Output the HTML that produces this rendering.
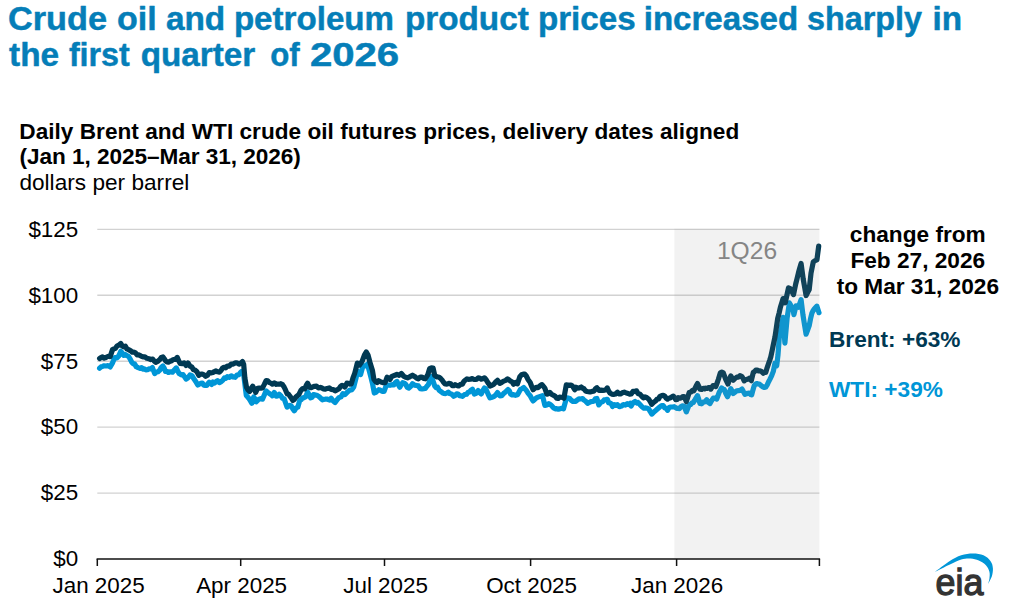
<!DOCTYPE html>
<html lang="en">
<head>
<meta charset="utf-8">
<title>Crude oil and petroleum product prices increased sharply in the first quarter of 2026</title>
<style>
html,body{margin:0;padding:0;background:#fff;}
body{width:1024px;height:612px;overflow:hidden;font-family:"Liberation Sans",Arial,sans-serif;}
svg{display:block;}
text{font-family:"Liberation Sans",Arial,sans-serif;}
.title{font-weight:bold;font-size:32.5px;fill:#057eb8;stroke:#057eb8;stroke-width:0.45px;stroke-linejoin:round;}
.sub{font-weight:bold;font-size:22.6px;fill:#000;}
.unit{font-size:22.6px;fill:#000;}
.ax{font-size:22.4px;fill:#000;}
.note{font-weight:bold;font-size:22.65px;fill:#000;}
</style>
</head>
<body>
<svg width="1024" height="612" viewBox="0 0 1024 612">
<rect width="1024" height="612" fill="#ffffff"/>
<text y="30.3" class="title"><tspan x="7.9" textLength="99.1" lengthAdjust="spacingAndGlyphs">Crude</tspan> <tspan x="116.9" textLength="39.7" lengthAdjust="spacingAndGlyphs">oil</tspan> <tspan x="165.9" textLength="59.3" lengthAdjust="spacingAndGlyphs">and</tspan> <tspan x="233.9" textLength="160.1" lengthAdjust="spacingAndGlyphs">petroleum</tspan> <tspan x="404.9" textLength="123.9" lengthAdjust="spacingAndGlyphs">product</tspan> <tspan x="537.9" textLength="97.7" lengthAdjust="spacingAndGlyphs">prices</tspan> <tspan x="643.7" textLength="154.5" lengthAdjust="spacingAndGlyphs">increased</tspan> <tspan x="807.1" textLength="114.9" lengthAdjust="spacingAndGlyphs">sharply</tspan> <tspan x="932.4" textLength="29.6" lengthAdjust="spacingAndGlyphs">in</tspan></text>
<text y="66.4" class="title"><tspan x="9.1" textLength="50.1" lengthAdjust="spacingAndGlyphs">the</tspan> <tspan x="68.9" textLength="60.9" lengthAdjust="spacingAndGlyphs">first</tspan> <tspan x="140.7" textLength="114.5" lengthAdjust="spacingAndGlyphs">quarter</tspan> <tspan x="270.2" textLength="29.5" lengthAdjust="spacingAndGlyphs">of</tspan> <tspan x="309.9" textLength="89.3" lengthAdjust="spacingAndGlyphs">2026</tspan></text>
<text x="19.3" y="138.7" class="sub" textLength="719.9">Daily Brent and WTI crude oil futures prices, delivery dates aligned</text>
<text x="19.5" y="164" class="sub" textLength="281.4">(Jan 1, 2025–Mar 31, 2026)</text>
<text x="19.4" y="189.8" class="unit" textLength="169.9">dollars per barrel</text>
<line x1="97.3" x2="819.4" y1="493.1" y2="493.1" stroke="#d2d2d2" stroke-width="1.4"/>
<line x1="97.3" x2="819.4" y1="427.1" y2="427.1" stroke="#d2d2d2" stroke-width="1.4"/>
<line x1="97.3" x2="819.4" y1="361.2" y2="361.2" stroke="#d2d2d2" stroke-width="1.4"/>
<line x1="97.3" x2="819.4" y1="295.3" y2="295.3" stroke="#d2d2d2" stroke-width="1.4"/>
<line x1="97.3" x2="819.4" y1="229.4" y2="229.4" stroke="#d2d2d2" stroke-width="1.4"/>

<text x="78.2" y="566.3" text-anchor="end" class="ax">$0</text>
<text x="78.2" y="500.4" text-anchor="end" class="ax">$25</text>
<text x="78.2" y="434.4" text-anchor="end" class="ax">$50</text>
<text x="78.2" y="368.5" text-anchor="end" class="ax">$75</text>
<text x="78.2" y="302.6" text-anchor="end" class="ax">$100</text>
<text x="78.2" y="236.7" text-anchor="end" class="ax">$125</text>

<path d="M99.6,368.2 L101.1,366.8 L102.5,366.4 L104.1,365.8 L105.7,366.0 L107.3,365.7 L108.7,365.8 L110.2,366.9 L112.5,362.9 L113.7,360.1 L115.0,357.7 L116.9,357.9 L118.8,355.9 L120.8,351.3 L122.2,353.0 L123.7,355.3 L125.3,354.5 L126.9,355.7 L128.5,356.4 L130.1,358.9 L131.7,362.2 L133.2,363.8 L134.7,363.9 L136.2,366.7 L138.1,367.6 L140.0,368.3 L141.5,367.6 L142.9,369.1 L144.4,368.8 L145.9,369.8 L147.4,369.7 L148.8,368.9 L150.6,369.0 L152.4,367.6 L154.7,373.6 L156.3,372.1 L158.0,371.8 L159.6,370.4 L161.3,367.4 L162.9,366.0 L164.2,368.1 L165.5,371.5 L167.0,371.3 L168.4,372.5 L170.4,371.8 L172.4,372.2 L174.3,370.0 L176.3,367.9 L177.7,371.0 L179.2,373.6 L181.2,374.8 L183.1,374.7 L184.6,376.9 L186.1,379.1 L188.0,377.8 L190.0,375.0 L192.0,375.7 L193.9,378.8 L195.9,381.7 L197.8,385.1 L199.3,384.1 L200.8,383.4 L202.3,383.1 L203.7,385.1 L205.2,385.3 L206.7,385.5 L207.9,383.7 L209.2,382.2 L211.6,384.4 L213.0,382.1 L214.5,383.0 L216.0,381.7 L217.5,380.7 L219.4,382.6 L221.2,381.7 L222.9,380.1 L224.4,377.8 L225.8,378.4 L227.3,376.6 L229.2,377.3 L231.2,375.8 L233.1,377.0 L235.1,377.3 L237.1,375.0 L239.0,374.6 L240.5,372.5 L241.9,371.3 L243.3,371.6 L244.8,383.3 L246.3,395.5 L247.7,397.0 L249.2,398.8 L250.5,400.9 L251.8,403.3 L253.7,396.9 L255.0,399.0 L256.3,401.8 L258.6,399.4 L260.6,398.7 L262.5,399.1 L264.3,395.0 L266.1,390.9 L267.7,392.3 L269.4,393.5 L270.9,394.4 L272.4,395.8 L274.3,392.4 L276.3,396.2 L277.7,395.9 L279.2,394.2 L280.8,395.6 L282.5,398.3 L284.1,398.7 L285.6,403.0 L287.1,407.1 L288.5,406.1 L290.0,405.4 L291.4,406.1 L292.9,409.0 L294.3,410.8 L296.1,407.9 L297.8,407.2 L299.8,400.1 L301.3,399.5 L302.7,397.9 L304.2,397.6 L305.7,396.7 L307.6,392.0 L309.1,394.7 L310.6,397.8 L312.1,397.3 L313.5,394.6 L315.5,395.1 L317.5,395.6 L319.1,396.6 L320.7,398.3 L322.4,399.8 L323.8,399.3 L325.3,399.2 L326.8,399.0 L328.2,399.5 L329.7,400.0 L331.2,398.2 L333.1,400.7 L335.1,402.5 L337.1,399.7 L339.0,397.6 L341.0,396.8 L342.9,393.7 L344.9,394.6 L346.4,393.1 L347.8,391.7 L349.8,390.0 L351.8,389.9 L353.7,387.1 L355.7,379.4 L357.6,371.2 L359.1,373.9 L360.6,374.5 L362.9,366.1 L364.4,365.8 L365.9,365.6 L367.5,364.1 L369.4,371.4 L370.9,377.1 L372.4,383.1 L374.3,393.0 L375.8,392.3 L377.3,390.8 L378.7,389.7 L380.2,390.1 L382.2,391.4 L384.1,391.4 L386.5,384.7 L388.2,385.0 L390.0,385.3 L392.0,384.7 L393.9,384.8 L395.4,382.5 L396.9,381.4 L398.3,384.4 L399.8,387.2 L401.3,384.7 L402.7,382.6 L404.2,383.1 L405.7,384.3 L407.2,387.2 L408.6,388.1 L410.6,386.5 L412.5,383.7 L414.5,385.1 L416.5,385.5 L418.4,385.9 L420.4,388.7 L422.0,389.0 L423.7,388.7 L425.3,388.5 L426.9,386.3 L428.4,384.6 L430.0,379.8 L431.4,376.4 L432.9,380.6 L434.7,385.8 L436.1,387.6 L437.5,387.1 L439.2,390.4 L441.0,391.6 L442.5,392.8 L443.9,393.5 L445.4,393.6 L446.9,393.1 L448.3,392.1 L449.8,393.6 L451.8,394.2 L453.7,396.3 L455.2,395.5 L456.7,393.8 L458.1,394.0 L459.6,395.6 L461.1,395.9 L462.5,396.4 L464.5,394.6 L466.5,394.3 L467.9,392.5 L469.4,392.0 L470.9,390.4 L472.4,389.2 L474.3,394.0 L476.3,393.3 L478.2,390.6 L479.7,392.8 L481.2,394.0 L482.8,390.7 L484.5,388.0 L485.8,388.7 L487.1,391.7 L488.5,395.1 L490.0,397.9 L492.0,397.2 L493.9,396.6 L495.7,395.0 L497.5,392.6 L499.8,395.8 L501.8,395.7 L503.7,393.4 L505.2,392.2 L506.6,390.9 L508.0,389.5 L509.3,390.8 L510.6,394.0 L512.1,394.9 L513.5,394.6 L515.5,395.3 L517.5,394.8 L518.9,392.2 L520.4,389.4 L522.1,388.7 L523.7,387.5 L525.0,388.9 L526.3,390.4 L528.2,393.4 L530.2,395.7 L531.7,398.6 L533.1,400.9 L534.8,399.3 L536.4,397.8 L538.0,397.1 L539.5,396.6 L541.0,396.1 L542.5,395.6 L544.9,405.4 L546.9,405.0 L548.8,403.6 L550.5,404.7 L552.1,406.2 L553.7,408.0 L555.2,408.8 L556.7,408.7 L558.4,409.2 L560.1,408.7 L561.8,408.2 L563.5,408.8 L565.0,403.4 L566.5,397.7 L568.1,398.1 L569.8,398.5 L571.3,400.4 L572.8,401.5 L574.3,401.3 L575.8,401.3 L577.3,400.0 L579.2,398.8 L581.2,399.0 L582.6,398.6 L584.1,400.2 L585.9,401.4 L587.6,403.3 L589.3,402.5 L591.0,401.6 L592.5,401.5 L593.9,401.0 L595.4,398.8 L596.9,398.5 L598.8,404.9 L600.8,402.4 L602.7,401.6 L604.2,399.8 L605.8,399.6 L607.3,399.3 L608.6,402.7 L610.0,403.1 L611.3,403.8 L612.5,406.5 L614.2,404.6 L615.8,405.5 L617.5,404.7 L619.4,406.7 L621.4,406.1 L623.3,404.6 L625.3,405.1 L627.3,403.7 L628.7,404.5 L630.2,403.3 L631.2,406.0 L633.1,402.7 L635.1,401.5 L636.6,403.0 L638.0,402.4 L640.0,404.6 L642.0,406.7 L643.9,408.2 L645.9,407.9 L647.4,408.3 L648.8,408.9 L650.3,411.7 L651.8,414.1 L653.7,412.1 L655.7,410.5 L657.1,409.3 L658.6,408.0 L660.0,406.8 L661.7,405.5 L663.3,405.7 L664.7,408.0 L666.1,408.3 L667.5,410.3 L669.2,407.5 L670.8,407.0 L672.5,407.0 L674.2,406.7 L675.4,407.4 L676.7,408.3 L678.1,408.3 L679.4,408.6 L680.8,406.8 L682.5,405.9 L684.2,406.3 L686.3,411.9 L687.8,408.2 L689.2,404.6 L690.6,404.5 L691.9,402.9 L693.3,402.5 L694.6,400.5 L695.8,398.4 L697.5,395.7 L698.8,399.4 L700.0,403.4 L701.7,403.8 L703.3,402.1 L705.0,401.7 L706.7,399.8 L708.3,402.4 L710.0,403.5 L711.7,400.5 L713.3,398.1 L715.0,398.0 L716.7,399.1 L717.9,395.8 L719.2,392.3 L720.4,390.2 L721.7,387.9 L722.9,389.5 L724.2,389.3 L725.8,393.6 L727.5,396.7 L729.2,392.7 L730.8,388.6 L732.1,391.2 L733.3,393.5 L735.0,392.2 L736.7,390.8 L738.4,390.7 L740.2,390.4 L742.0,389.0 L743.5,391.8 L745.0,394.4 L746.4,393.9 L747.8,393.2 L749.2,393.0 L750.4,394.4 L751.7,394.8 L752.9,390.2 L754.2,385.7 L755.4,384.3 L756.7,383.5 L758.1,384.0 L759.4,384.1 L760.8,385.4 L762.5,386.6 L764.2,387.5 L765.8,387.0 L767.2,384.9 L768.6,381.8 L770.0,379.1 L771.7,375.6 L773.3,371.4 L775.0,363.1 L776.7,365.7 L778.0,354.9 L779.2,338.2 L781.0,329.1 L783.1,317.4 L784.9,343.1 L787.1,318.1 L789.4,302.9 L791.2,306.1 L793.0,309.1 L793.9,314.7 L796.0,305.9 L798.4,307.2 L799.7,303.7 L801.1,299.7 L802.9,314.5 L804.5,324.6 L806.1,334.2 L807.6,330.1 L809.2,325.7 L810.5,318.9 L811.9,313.1 L813.2,310.5 L814.6,308.5 L816.9,306.2 L819.0,312.7" fill="none" stroke="#0096d7" stroke-width="5.2" stroke-linejoin="round" stroke-linecap="round"/>
<path d="M99.6,358.4 L101.1,357.5 L102.5,356.8 L103.9,358.1 L105.4,357.8 L106.8,357.0 L108.3,356.3 L110.2,356.6 L112.5,349.6 L114.0,348.9 L115.4,348.4 L116.9,346.1 L118.8,345.2 L120.8,343.4 L122.2,345.9 L123.7,346.8 L125.3,346.2 L126.9,348.9 L128.5,349.6 L130.4,350.6 L132.3,352.2 L133.9,352.2 L135.5,352.9 L137.1,354.8 L139.0,354.9 L141.0,356.1 L142.9,356.8 L144.9,356.9 L146.9,358.3 L148.8,358.7 L150.8,359.6 L152.7,359.1 L154.2,361.0 L155.7,362.3 L157.6,361.4 L159.6,359.8 L161.3,357.5 L162.9,357.0 L164.2,358.6 L165.5,360.8 L167.0,362.0 L168.4,362.2 L170.1,361.3 L171.7,360.7 L173.3,359.5 L175.3,359.5 L177.3,357.4 L178.7,360.8 L180.2,363.5 L182.2,363.7 L184.1,362.8 L186.1,365.5 L188.0,363.0 L190.0,366.2 L192.0,367.2 L193.4,369.7 L194.9,370.0 L196.9,371.8 L198.8,375.4 L200.8,374.1 L202.4,374.1 L204.1,374.8 L205.7,376.3 L207.5,375.3 L209.2,372.7 L211.6,372.8 L213.0,372.4 L214.5,371.6 L216.0,370.9 L217.5,371.8 L219.4,372.1 L220.9,370.7 L222.4,368.3 L224.0,367.3 L225.6,367.8 L227.3,366.1 L229.2,366.2 L231.2,364.2 L233.1,364.1 L235.1,362.9 L237.1,362.9 L239.0,364.2 L240.8,363.2 L242.5,361.5 L243.7,364.5 L244.9,378.3 L246.5,387.2 L248.0,389.9 L249.6,391.5 L251.2,388.3 L252.7,386.2 L254.2,389.0 L255.7,392.4 L257.6,388.3 L259.3,388.0 L260.9,388.1 L262.5,387.9 L264.3,384.4 L266.1,380.6 L267.7,380.9 L269.4,382.6 L270.9,383.1 L272.4,384.2 L274.3,382.8 L276.3,384.3 L277.7,384.0 L279.2,384.2 L280.8,383.7 L282.5,384.6 L284.1,387.0 L285.6,390.2 L287.1,393.7 L288.5,394.2 L290.0,396.2 L291.5,398.4 L292.9,400.4 L294.4,399.3 L295.9,397.0 L297.4,395.7 L298.8,394.6 L300.8,390.6 L302.7,388.5 L304.7,388.9 L306.2,385.4 L307.6,383.2 L309.6,387.3 L311.1,387.7 L312.5,386.9 L314.5,386.3 L316.5,386.1 L318.4,387.9 L320.4,387.4 L321.9,388.0 L323.3,388.9 L325.3,389.2 L327.3,388.4 L329.2,387.9 L331.2,389.4 L333.1,389.6 L335.1,390.8 L337.1,389.9 L339.0,388.7 L340.5,386.5 L342.0,385.3 L343.4,386.1 L344.9,387.0 L346.9,383.2 L348.3,383.3 L349.7,384.1 L351.2,383.9 L352.9,378.2 L354.7,373.3 L356.0,368.3 L357.3,363.1 L359.4,365.1 L360.8,363.2 L362.2,361.1 L364.5,354.8 L366.3,352.0 L368.0,355.0 L370.0,362.5 L372.4,370.2 L373.9,379.3 L375.5,381.5 L377.1,382.5 L378.6,380.7 L380.2,381.6 L381.8,382.2 L383.5,382.7 L385.1,382.6 L387.1,377.2 L388.5,378.4 L390.0,379.5 L391.5,376.8 L392.9,375.9 L394.9,375.3 L396.9,374.3 L398.8,375.3 L400.1,374.7 L401.4,373.5 L403.7,376.2 L405.7,377.3 L407.6,377.8 L409.1,377.2 L410.6,376.3 L412.5,375.2 L414.5,376.4 L416.5,378.0 L418.4,378.8 L420.4,377.1 L422.0,377.1 L423.7,378.5 L425.3,378.8 L426.6,376.6 L427.8,374.8 L429.6,368.7 L431.4,367.9 L433.1,368.1 L434.7,375.4 L437.1,377.0 L438.8,377.0 L440.6,378.4 L442.0,379.9 L443.3,382.0 L445.1,384.0 L446.9,384.1 L448.8,383.4 L450.8,383.8 L452.3,385.6 L453.7,385.7 L455.0,384.7 L456.3,385.2 L458.6,386.0 L460.6,384.4 L462.5,384.2 L464.0,381.2 L465.5,380.0 L467.0,378.9 L468.4,379.3 L470.4,379.2 L472.4,378.5 L473.8,379.5 L475.3,379.5 L476.8,379.2 L478.2,377.9 L479.7,378.0 L481.2,379.1 L482.8,378.8 L484.5,377.8 L485.8,379.2 L487.1,381.3 L488.5,383.5 L490.0,386.0 L492.0,385.3 L493.9,384.2 L495.7,382.0 L497.5,380.3 L499.8,383.3 L501.8,382.3 L503.7,381.1 L505.7,380.4 L507.6,378.9 L509.1,379.9 L510.6,381.2 L512.1,381.8 L513.5,384.2 L515.5,382.5 L517.5,383.8 L519.8,376.8 L521.6,374.8 L523.3,374.2 L524.8,374.2 L526.3,376.0 L528.2,379.7 L530.2,382.5 L531.7,386.5 L533.1,389.7 L534.8,388.3 L536.4,387.3 L538.0,387.7 L540.0,385.8 L542.0,384.6 L543.4,386.3 L544.9,388.3 L546.9,394.2 L548.3,393.8 L549.8,392.4 L551.8,394.5 L553.7,395.4 L555.2,396.2 L556.7,398.3 L558.1,398.5 L559.6,397.1 L561.0,397.3 L562.5,397.5 L563.9,398.3 L566.3,384.9 L567.7,385.1 L569.2,385.5 L570.8,385.0 L572.4,386.0 L574.7,389.7 L576.0,387.2 L577.3,388.1 L579.2,387.9 L581.2,387.0 L582.6,388.1 L584.1,388.9 L585.6,391.0 L587.1,391.5 L588.5,391.7 L590.0,392.0 L592.0,391.4 L593.9,391.2 L595.4,388.8 L596.9,387.7 L598.8,390.3 L600.8,390.1 L602.7,390.4 L604.7,390.1 L606.0,389.6 L607.3,387.9 L608.6,391.0 L610.0,393.0 L611.8,394.1 L613.5,394.4 L615.5,394.0 L617.5,392.2 L618.9,393.8 L620.4,394.0 L622.4,392.8 L624.3,392.1 L626.3,393.0 L628.2,393.5 L629.7,394.2 L631.2,394.0 L633.1,391.3 L635.1,391.1 L636.6,390.9 L638.0,393.6 L640.0,394.3 L642.0,396.5 L643.4,397.8 L644.9,396.8 L646.9,397.7 L648.8,399.2 L650.3,401.8 L651.8,404.3 L653.7,402.2 L655.7,400.9 L657.1,399.0 L658.6,399.0 L660.0,396.3 L661.7,395.6 L663.3,395.3 L664.7,396.0 L666.1,398.2 L667.5,399.2 L668.8,398.2 L670.0,398.0 L671.7,397.0 L673.3,396.1 L674.6,397.5 L675.8,399.7 L677.1,399.5 L678.3,397.7 L680.0,398.2 L681.7,397.6 L682.9,396.5 L684.2,396.5 L686.3,401.5 L687.8,397.1 L689.2,392.5 L690.8,392.1 L692.5,390.4 L693.8,390.8 L695.0,388.4 L696.2,385.8 L697.5,383.5 L698.8,386.3 L700.0,389.2 L701.7,389.5 L703.3,388.3 L704.6,388.8 L705.8,388.2 L707.1,388.4 L708.3,387.5 L709.6,387.5 L710.8,389.1 L713.0,385.6 L714.4,385.7 L715.8,386.6 L717.1,383.0 L718.3,379.5 L720.3,372.9 L721.8,372.2 L723.3,372.9 L724.6,376.4 L725.8,379.5 L728.0,384.0 L729.4,379.7 L730.8,375.9 L732.1,378.0 L733.3,380.2 L735.0,378.5 L736.7,377.2 L738.3,377.2 L740.0,375.6 L741.7,376.3 L742.9,378.1 L744.2,380.8 L745.4,379.9 L746.7,379.4 L747.9,379.2 L749.2,378.2 L751.3,380.7 L753.3,372.3 L754.6,371.6 L755.8,370.1 L757.2,370.1 L758.6,370.9 L760.0,370.8 L761.7,371.6 L763.3,373.3 L764.6,372.3 L765.8,372.4 L767.1,367.8 L768.3,364.3 L769.6,360.6 L770.8,356.9 L772.1,350.7 L773.3,344.9 L775.0,336.9 L776.4,327.3 L777.7,318.5 L779.1,313.1 L780.4,307.2 L781.8,302.8 L783.1,298.6 L785.3,302.8 L786.9,295.1 L788.5,287.9 L789.9,288.4 L791.2,290.1 L793.5,294.6 L795.7,284.0 L797.0,278.8 L798.4,273.0 L799.7,268.2 L801.1,263.5 L803.2,279.0 L804.7,287.5 L806.1,295.5 L807.6,292.6 L809.2,289.6 L811.0,273.3 L813.3,261.8 L815.1,260.6 L816.9,259.9 L818.7,246.1" fill="none" stroke="#003953" stroke-width="5.2" stroke-linejoin="round" stroke-linecap="round"/>
<rect x="674.4" y="228.7" width="145" height="330.3" fill="#8c8c8c" fill-opacity="0.114"/>
<text x="747" y="259" text-anchor="middle" style="font-size:24.6px;fill:#858585">1Q26</text>
<line x1="96.6" x2="820.1" y1="559" y2="559" stroke="#111" stroke-width="1.6"/>
<line x1="97.3" x2="97.3" y1="559" y2="566" stroke="#111" stroke-width="1.5"/>
<text x="98.6" y="592.5" text-anchor="middle" class="ax">Jan 2025</text>
<line x1="240.7" x2="240.7" y1="559" y2="566" stroke="#111" stroke-width="1.5"/>
<text x="241.6" y="592.5" text-anchor="middle" class="ax">Apr 2025</text>
<line x1="384.5" x2="384.5" y1="559" y2="566" stroke="#111" stroke-width="1.5"/>
<text x="385.6" y="592.5" text-anchor="middle" class="ax">Jul 2025</text>
<line x1="530.6" x2="530.6" y1="559" y2="566" stroke="#111" stroke-width="1.5"/>
<text x="531.6" y="592.5" text-anchor="middle" class="ax">Oct 2025</text>
<line x1="676.6" x2="676.6" y1="559" y2="566" stroke="#111" stroke-width="1.5"/>
<text x="677.1" y="592.5" text-anchor="middle" class="ax">Jan 2026</text>
<line x1="819.4" x2="819.4" y1="559" y2="566" stroke="#111" stroke-width="1.5"/>

<text x="917.8" y="241.6" text-anchor="middle" class="note">change from</text>
<text x="917.8" y="268" text-anchor="middle" class="note">Feb 27, 2026</text>
<text x="917.8" y="293.5" text-anchor="middle" class="note">to Mar 31, 2026</text>
<text x="829" y="346.7" class="note" style="fill:#003953">Brent: +63%</text>
<text x="829" y="397.3" class="note" style="fill:#0096d7">WTI: +39%</text>
<g id="eia-logo">
<path d="M934.6,572.1 C937.1,570.3 945.0,564.0 949.4,561.2 C953.8,558.4 957.3,556.6 961.2,555.3 C965.1,554.0 969.2,553.5 972.9,553.5 C976.7,553.5 980.6,554.0 983.5,555.3 C986.5,556.6 989.0,559.0 990.6,561.2 C992.2,563.3 992.7,565.7 992.9,568.2 C993.1,570.8 992.6,573.8 991.8,576.5 C990.9,579.1 988.6,582.8 988.0,584.1L988.0,584.1 C988.2,583.2 989.2,580.9 989.4,578.8 C989.6,576.8 990.0,574.0 989.4,571.8 C988.8,569.5 987.6,567.2 985.9,565.3 C984.1,563.4 981.4,561.7 978.8,560.6 C976.3,559.5 973.5,558.7 970.6,558.6 C967.6,558.4 964.7,558.6 961.2,559.6 C957.6,560.7 953.8,562.7 949.4,564.8 C945.0,566.9 937.1,570.9 934.6,572.1 Z" fill="#0096d7"/>
<text x="935.6" y="594.7" style="font-size:37.5px;fill:#333;stroke:#333;stroke-width:1.3px" textLength="47.8" lengthAdjust="spacingAndGlyphs">eia</text>
</g>
</svg>
</body>
</html>
